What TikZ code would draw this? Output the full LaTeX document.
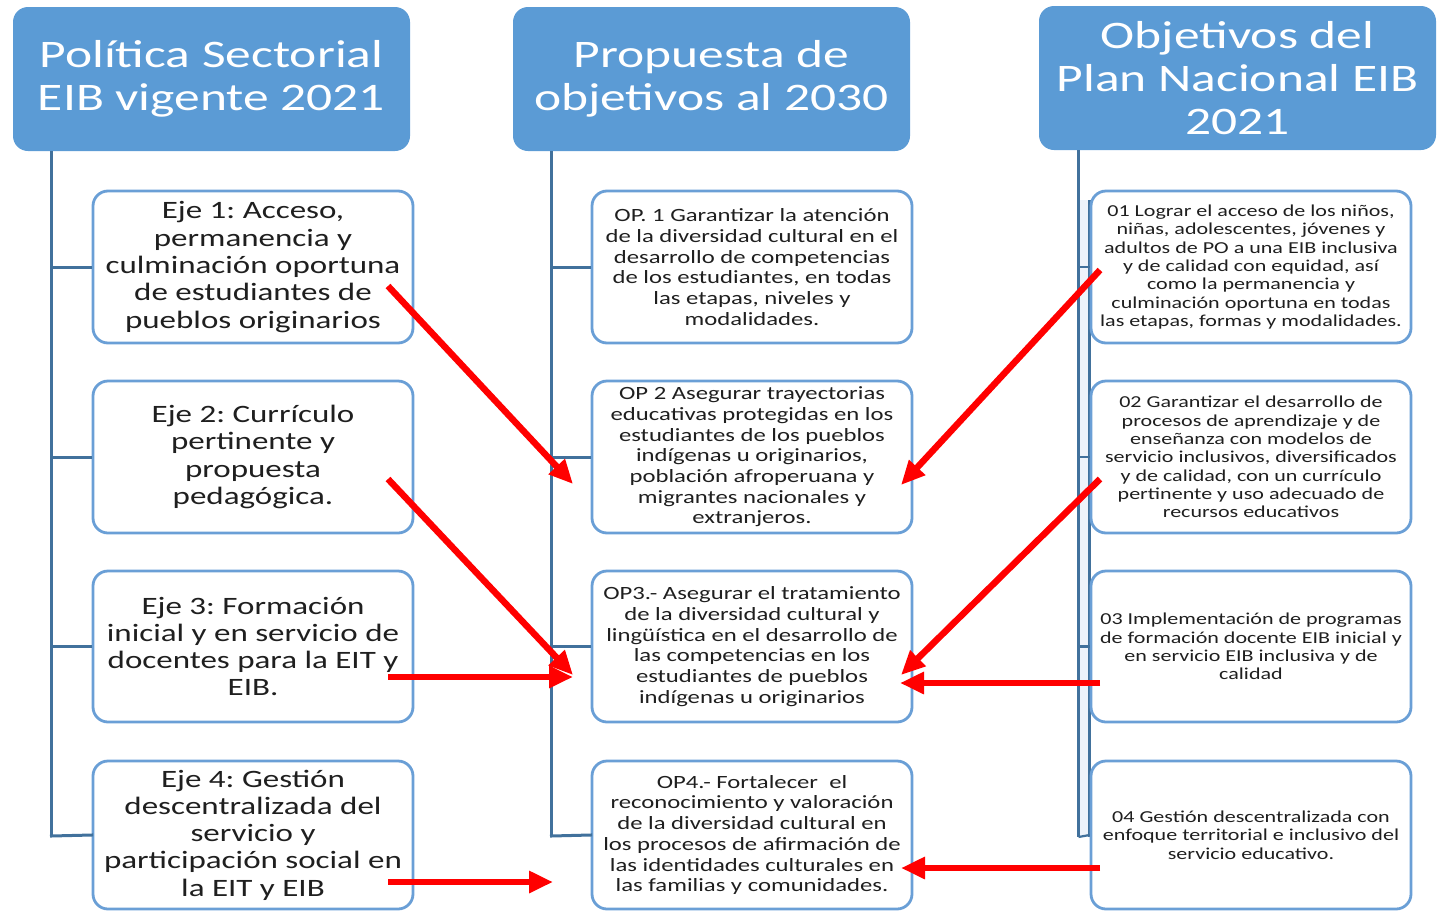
\documentclass[tikz,border=0pt]{standalone}
\usepackage{fontspec}
\setmainfont{Carlito}[FakeStretch=1.32]
\usetikzlibrary{arrows.meta}
\definecolor{hdrblue}{HTML}{5B9BD5}
\definecolor{boxblue}{HTML}{6A9FD6}
\definecolor{trunkblue}{HTML}{41719C}
\definecolor{txtc}{HTML}{1F1F1F}
\definecolor{paleblue}{HTML}{EEF3FA}
\definecolor{arrred}{HTML}{FF0000}
\frenchspacing
\begin{document}
\begin{tikzpicture}[x=1pt,y=-1pt,
  hdr/.style={fill=hdrblue, rounded corners=15pt, minimum width=397pt, minimum height=144pt, inner sep=0pt, text=white, align=center, font=\fontsize{39}{43}\selectfont},
  itembox/.style={draw=boxblue, line width=2.8pt, rounded corners=15pt, fill=white, minimum width=320pt, inner sep=0pt, text=txtc, align=center},
  leftbox/.style={itembox, font=\fontsize{25}{27.3}\selectfont},
  midbox/.style={itembox, font=\fontsize{18.7}{20.7}\selectfont},
  rightbox/.style={itembox, font=\fontsize{16.7}{18.3}\selectfont},
  trunk/.style={draw=trunkblue, line width=3pt},
  thintrunk/.style={draw=trunkblue, line width=2.2pt},
  redarrow/.style={draw=arrred, line width=6.5pt, -{Triangle[length=24pt,width=21pt]}}
]
\useasboundingbox (0,0) rectangle (1452,911);

% headers
\node[hdr] (h1) at (211.5,79) {Política Sectorial\\EIB vigente 2021};
\node[hdr] (h2) at (711.5,79) {Propuesta de\\objetivos al 2030};
\node[hdr] (h3) at (1237.5,78) {Objetivos del\\Plan Nacional EIB\\2021};

% trunk end coordinates
\coordinate (t1) at (51.5,836);
\coordinate (t2) at (551.5,836);
\coordinate (t3) at (1078.5,837);

% right double trunk (drawn first)
\fill[paleblue] (1078.5,200) rectangle (1089.5,837);
\draw[thintrunk] (1089.5,200) -- (1089.5,837);

% boxes left
\node[leftbox, minimum height=152pt] (e1) at (253,267) {Eje 1: Acceso,\\permanencia y\\culminación oportuna\\de estudiantes de\\pueblos originarios};
\node[leftbox, minimum height=152pt] (e2) at (253,457) {Eje 2: Currículo\\pertinente y\\propuesta\\pedagógica.};
\node[leftbox, minimum height=151pt] (e3) at (253,646.5) {Eje 3: Formación\\inicial y en servicio de\\docentes para la EIT y\\EIB.};
\node[leftbox, minimum height=148pt] (e4) at (253,835) {Eje 4: Gestión\\descentralizada del\\servicio y\\participación social en\\la EIT y EIB};

% boxes middle
\node[midbox, minimum height=152pt] (o1) at (752,267) {OP. 1 Garantizar la atención\\de la diversidad cultural en el\\desarrollo de competencias\\de los estudiantes, en todas\\las etapas, niveles y\\modalidades.};
\node[midbox, minimum height=152pt] (o2) at (752,457) {OP 2 Asegurar trayectorias\\educativas protegidas en los\\estudiantes de los pueblos\\indígenas u originarios,\\población afroperuana y\\migrantes nacionales y\\extranjeros.};
\node[midbox, minimum height=151pt] (o3) at (752,646.5) {OP3.- Asegurar el tratamiento\\de la diversidad cultural y\\lingüística en el desarrollo de\\las competencias en los\\estudiantes de pueblos\\indígenas u originarios};
\node[midbox, minimum height=148pt] (o4) at (752,835) {OP4.- Fortalecer\ \ el\\reconocimiento y valoración\\de la diversidad cultural en\\los procesos de afirmación de\\las identidades culturales en\\las familias y comunidades.};

% boxes right
\node[rightbox, minimum height=152pt] (p1) at (1251,267) {01 Lograr el acceso de los niños,\\niñas, adolescentes, jóvenes y\\adultos de PO a una EIB inclusiva\\y de calidad con equidad, así\\como la permanencia y\\culminación oportuna en todas\\las etapas, formas y modalidades.};
\node[rightbox, minimum height=152pt] (p2) at (1251,457) {02 Garantizar el desarrollo de\\procesos de aprendizaje y de\\enseñanza con modelos de\\servicio inclusivos, diversificados\\y de calidad, con un currículo\\pertinente y uso adecuado de\\recursos educativos};
\node[rightbox, minimum height=151pt] (p3) at (1251,646.5) {03 Implementación de programas\\de formación docente EIB inicial y\\en servicio EIB inclusiva y de\\calidad};
\node[rightbox, minimum height=148pt] (p4) at (1251,835) {04 Gestión descentralizada con\\enfoque territorial e inclusivo del\\servicio educativo.};

% trunks and branches
\draw[trunk] (h1.south -| t1) -- (t1);
\draw[trunk] (e1.west -| t1) -- (e1.west);
\draw[trunk] (e2.west -| t1) -- (e2.west);
\draw[trunk] (e3.west -| t1) -- (e3.west);
\draw[trunk, line cap=rect] (t1) -- (e4.west);

\draw[trunk] (h2.south -| t2) -- (t2);
\draw[trunk] (o1.west -| t2) -- (o1.west);
\draw[trunk] (o2.west -| t2) -- (o2.west);
\draw[trunk] (o3.west -| t2) -- (o3.west);
\draw[trunk, line cap=rect] (t2) -- (o4.west);

\draw[trunk] (h3.south -| t3) -- (t3);
\draw[thintrunk] (p1.west -| t3) -- (p1.west);
\draw[thintrunk] (p2.west -| t3) -- (p2.west);
\draw[thintrunk] (p3.west -| t3) -- (p3.west);
\draw[thintrunk] (t3) -- (p4.west);

% arrow coordinates
\coordinate (a1s) at (388,286);
\coordinate (a1e) at (573,484);
\coordinate (a2s) at (388,479);
\coordinate (a2e) at (573,675);
\coordinate (a3s) at (388,677);
\coordinate (a3e) at (573,677);
\coordinate (a4s) at (388,882);
\coordinate (a4e) at (553,882);
\coordinate (b1s) at (1100,270);
\coordinate (b1e) at (901,485);
\coordinate (b2s) at (1100,479);
\coordinate (b2e) at (901,675);
\coordinate (b3s) at (1100,683);
\coordinate (b3e) at (900,683);
\coordinate (b4s) at (1100,868);
\coordinate (b4e) at (901,868);

\draw[redarrow] (a1s) -- (a1e);
\draw[redarrow] (a2s) -- (a2e);
\draw[redarrow] (a3s) -- (a3e);
\draw[redarrow] (a4s) -- (a4e);
\draw[redarrow] (b1s) -- (b1e);
\draw[redarrow] (b2s) -- (b2e);
\draw[redarrow] (b3s) -- (b3e);
\draw[redarrow] (b4s) -- (b4e);
\end{tikzpicture}
\end{document}
